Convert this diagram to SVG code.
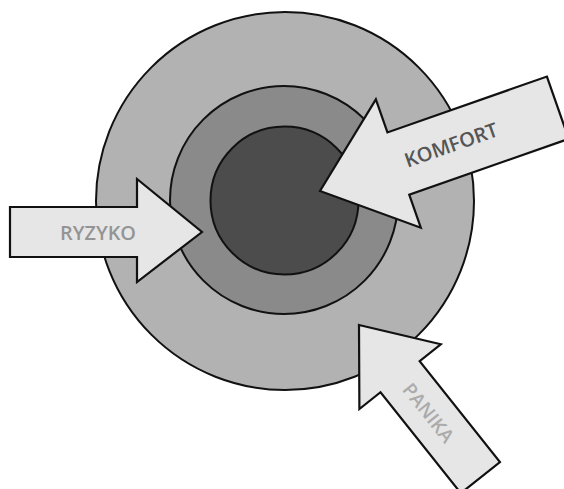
<svg xmlns="http://www.w3.org/2000/svg" width="564" height="489" viewBox="0 0 564 489">
  <style>
    .ring { stroke: #111; stroke-width: 2; }
    .arrow { fill: #e6e6e6; stroke: #111; stroke-width: 2.2; stroke-linejoin: miter; }
    .lbl { font-family: "Open Sans", "Liberation Sans", sans-serif; font-weight: 600; text-anchor: middle; }
  </style>
  <rect width="564" height="489" fill="#ffffff"/>
  <g id="rings">
    <circle id="outer" class="ring" cx="285" cy="201" r="189" fill="#b2b2b2"/>
    <circle id="middle" class="ring" cx="284" cy="200" r="114" fill="#8a8a8a"/>
    <circle id="inner" class="ring" cx="284.5" cy="200.5" r="74" fill="#4c4c4c"/>
  </g>
  <g id="connectors">
    <g id="ryzyko">
      <polygon class="arrow" points="10,207 137,207 137,179 202,232 137,282 137,257 10,257"/>
      <text class="lbl" x="98" y="239.5" font-size="20" fill="#949494" textLength="76" lengthAdjust="spacingAndGlyphs">RYZYKO</text>
    </g>
    <g id="komfort" transform="translate(320,191) rotate(-19.3)">
      <polygon class="arrow" points="0,0 83,-68 83,-33 252,-33 252,33 83,33 83,68"/>
      <text class="lbl" x="139" y="7" font-size="20" fill="#555555">KOMFORT</text>
    </g>
    <g id="panika" transform="translate(359,325) rotate(51.5)">
      <polygon class="arrow" points="0,0 66,-52 66,-25 195,-25 195,25 66,25 66,52"/>
      <text class="lbl" x="112" y="7" font-size="19" fill="#ababab">PANIKA</text>
    </g>
  </g>
</svg>
